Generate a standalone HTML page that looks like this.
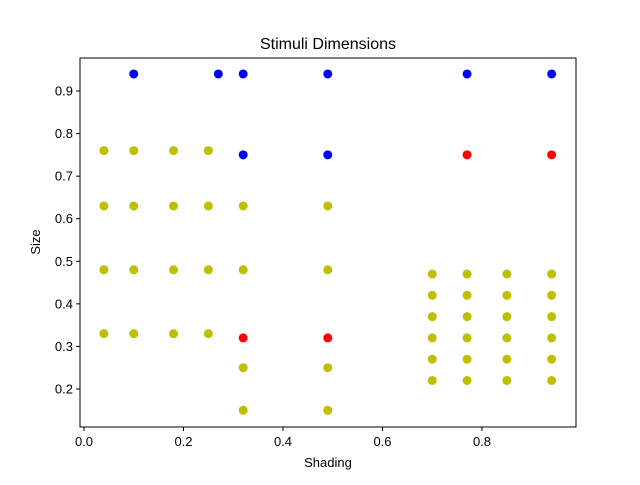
<!DOCTYPE html>
<html><head><meta charset="utf-8"><style>
body{margin:0;background:#fff;width:640px;height:480px;overflow:hidden}
text{font-family:"Liberation Sans","DejaVu Sans",sans-serif}
</style></head><body>
<svg id="chart" width="640" height="480" xmlns="http://www.w3.org/2000/svg">
<text x="328" y="49" font-size="16" text-anchor="middle">Stimuli Dimensions</text>
<g id="plot"></g>
<rect x="80" y="58" width="496" height="369" fill="none" stroke="#000" stroke-width="1"/>
<text x="328" y="467" font-size="13" text-anchor="middle">Shading</text>
<text transform="translate(40,242) rotate(-90)" font-size="13" text-anchor="middle">Size</text>
</svg>
<script>
const xTicks=[0.0,0.2,0.4,0.6,0.8];
const xTickLabels=["0.0","0.2","0.4","0.6","0.8"];
const yTicks=[0.2,0.3,0.4,0.5,0.6,0.7,0.8,0.9];
const yTickLabels=["0.2","0.3","0.4","0.5","0.6","0.7","0.8","0.9"];
const blueX=[0.1,0.27,0.32,0.49,0.77,0.94,0.32,0.49];
const blueY=[0.94,0.94,0.94,0.94,0.94,0.94,0.75,0.75];
const redX=[0.77,0.94,0.32,0.49];
const redY=[0.75,0.75,0.32,0.32];
const yellowX=[0.04,0.04,0.04,0.04,0.1,0.1,0.1,0.1,0.18,0.18,0.18,0.18,0.25,0.25,0.25,0.25,
0.32,0.32,0.32,0.32,0.49,0.49,0.49,0.49,
0.7,0.7,0.7,0.7,0.7,0.7,0.77,0.77,0.77,0.77,0.77,0.77,0.85,0.85,0.85,0.85,0.85,0.85,0.94,0.94,0.94,0.94,0.94,0.94];
const yellowY=[0.76,0.63,0.48,0.33,0.76,0.63,0.48,0.33,0.76,0.63,0.48,0.33,0.76,0.63,0.48,0.33,
0.63,0.48,0.25,0.15,0.63,0.48,0.25,0.15,
0.47,0.42,0.37,0.32,0.27,0.22,0.47,0.42,0.37,0.32,0.27,0.22,0.47,0.42,0.37,0.32,0.27,0.22,0.47,0.42,0.37,0.32,0.27,0.22];
function xs(v){return 84+v*497.5;}
function ys(v){return 389-(v-0.2)*425.7;}
const NS="http://www.w3.org/2000/svg";
const g=document.getElementById('plot');
function mk(t,a){const e=document.createElementNS(NS,t);for(const k in a)e.setAttribute(k,a[k]);g.appendChild(e);return e;}
xTicks.forEach((v,i)=>{
 const l=mk('line',{x1:xs(v),x2:xs(v),y1:427,y2:431,stroke:'#000'});
 
 
 const t=mk('text',{x:xs(v),y:446,'font-size':13,'text-anchor':'middle'});
 t.textContent=xTickLabels[i];
 
 
});
yTicks.forEach((v,i)=>{
 const l=mk('line',{x1:76,x2:80,y1:ys(v),y2:ys(v),stroke:'#000'});
 
 
 const t=mk('text',{x:73,y:ys(v)+4.5,'font-size':13,'text-anchor':'end'});
 t.textContent=yTickLabels[i];
 
 
});
function series(X,Y,col,name){
 X.forEach((x,i)=>{
  const c=mk('circle',{cx:xs(x),cy:ys(Y[i]),r:4.5,fill:col});
  
  
 });
}
series(yellowX,yellowY,'#bfbf00','yellow-point');
series(blueX,blueY,'#0000ff','blue-point');
series(redX,redY,'#ff0000','red-point');
</script>
</body></html>
